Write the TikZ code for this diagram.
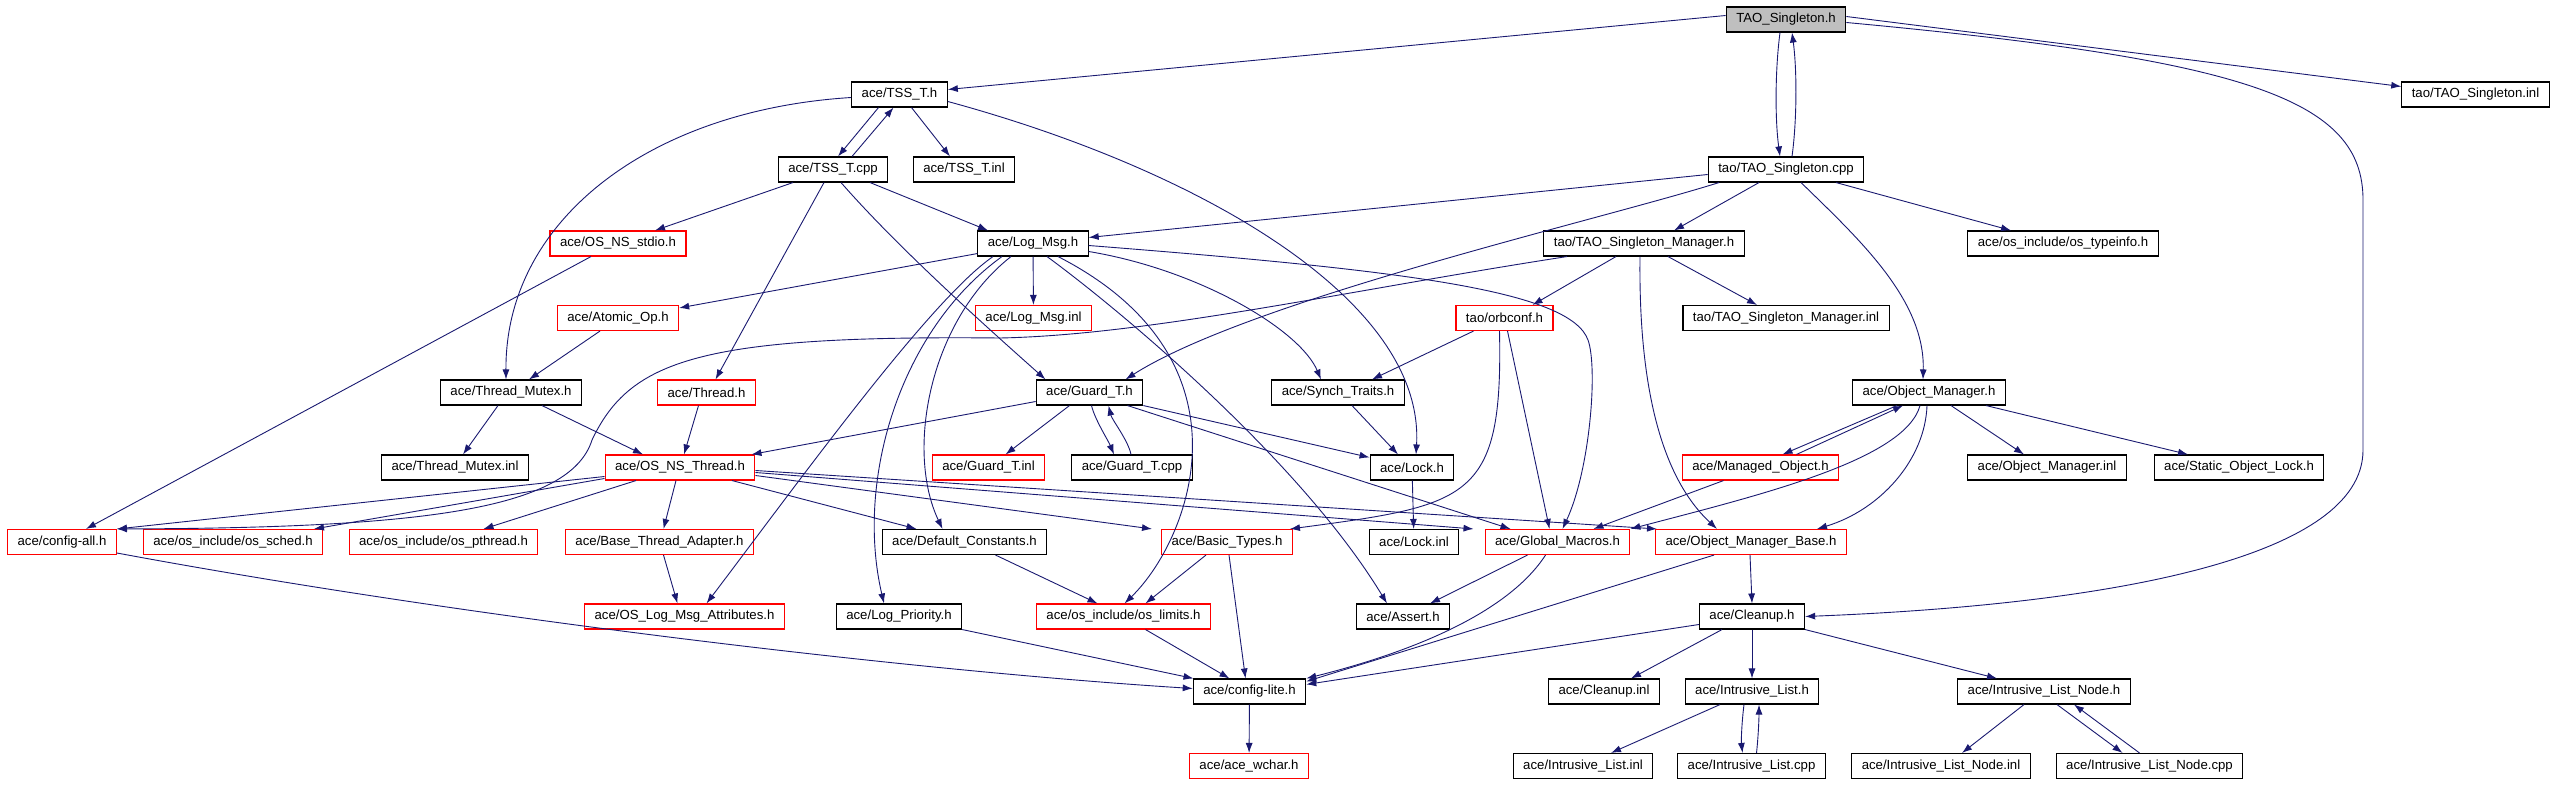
\documentclass[tikz,border=0pt]{standalone}
\usepackage{fontspec}
\setmainfont{Liberation Sans}
\usepackage{tikz}
\usetikzlibrary{arrows.meta}
\definecolor{midnight}{HTML}{191970}
\definecolor{rootgray}{HTML}{BFBFBF}

\begin{document}
\begin{tikzpicture}[x=1pt,y=-1pt]
\tikzset{file/.style = {shape=rectangle,draw,line width=1.1pt,minimum height=25pt,inner xsep=10pt,inner ysep=0pt,fill=white,font=\fontsize{13.2}{15}\selectfont}}
\tikzset{missing/.style = {file,draw=red}}
\tikzset{edge/.style = {->,> = {Latex[length=10pt,width=7pt]},draw=midnight,line width=0.9pt}}
\useasboundingbox (0,0) rectangle (2555,784);
% top rows
\node[file,fill=rootgray] (root) at (1786,19.5) {TAO\_Singleton.h};
\node[file] (tssth) at (899.5,94.5) {ace/TSS\_T.h};
\node[file] (tsinl) at (2475.5,94.5) {tao/TAO\_Singleton.inl};
\node[file] (tsstcpp) at (833,169.5) {ace/TSS\_T.cpp};
\node[file] (tsstinl) at (964,169.5) {ace/TSS\_T.inl};
\node[file] (tscpp) at (1786,169.5) {tao/TAO\_Singleton.cpp};
\node[missing] (stdio) at (618,243.5) {ace/OS\_NS\_stdio.h};
\node[file] (logmsg) at (1033,243.5) {ace/Log\_Msg.h};
\node[file] (tsmh) at (1644,243.5) {tao/TAO\_Singleton\_Manager.h};
\node[file] (typeinfo) at (2063,243.5) {ace/os\_include/os\_typeinfo.h};
\node[missing] (atomic) at (618,318) {ace/Atomic\_Op.h};
\node[missing] (logmsginl) at (1033.5,318) {ace/Log\_Msg.inl};
\node[missing] (orbconf) at (1504.5,318) {tao/orbconf.h};
\node[file] (tsminl) at (1786,318) {tao/TAO\_Singleton\_Manager.inl};
\node[file] (tmutex) at (511,392.5) {ace/Thread\_Mutex.h};
\node[missing] (thread) at (706.5,392.5) {ace/Thread.h};
\node[file] (guard) at (1089.5,392.5) {ace/Guard\_T.h};
\node[file] (synch) at (1338,392.5) {ace/Synch\_Traits.h};
\node[file] (objmgr) at (1929,392.5) {ace/Object\_Manager.h};
% middle rows
\node[file] (tmutexinl) at (455,467.5) {ace/Thread\_Mutex.inl};
\node[missing] (osthread) at (680,467.5) {ace/OS\_NS\_Thread.h};
\node[missing] (guardinl) at (988.5,467.5) {ace/Guard\_T.inl};
\node[file] (guardcpp) at (1132,467.5) {ace/Guard\_T.cpp};
\node[file] (lock) at (1412,467.5) {ace/Lock.h};
\node[missing] (managed) at (1760.5,467.5) {ace/Managed\_Object.h};
\node[file] (objmgrinl) at (2047,467.5) {ace/Object\_Manager.inl};
\node[file] (staticlock) at (2239,467.5) {ace/Static\_Object\_Lock.h};
\node[missing] (configall) at (62,542) {ace/config-all.h};
\node[missing] (sched) at (233,542) {ace/os\_include/os\_sched.h};
\node[missing] (pthread) at (443.5,542) {ace/os\_include/os\_pthread.h};
\node[missing] (bta) at (659.5,542) {ace/Base\_Thread\_Adapter.h};
\node[file] (defconst) at (964.5,542) {ace/Default\_Constants.h};
\node[missing] (basic) at (1227,542) {ace/Basic\_Types.h};
\node[file] (lockinl) at (1414,542) {ace/Lock.inl};
\node[missing] (macros) at (1557.5,542) {ace/Global\_Macros.h};
\node[missing] (omb) at (1751,542) {ace/Object\_Manager\_Base.h};
% bottom rows
\node[missing] (olma) at (684.5,616.5) {ace/OS\_Log\_Msg\_Attributes.h};
\node[file] (logprio) at (899,616.5) {ace/Log\_Priority.h};
\node[missing] (limits) at (1123.5,616.5) {ace/os\_include/os\_limits.h};
\node[file] (assert) at (1403,616.5) {ace/Assert.h};
\node[file] (cleanup) at (1752,616.5) {ace/Cleanup.h};
\node[file] (configlite) at (1249.5,691.5) {ace/config-lite.h};
\node[file] (cleanupinl) at (1604,691.5) {ace/Cleanup.inl};
\node[file] (ilist) at (1752,691.5) {ace/Intrusive\_List.h};
\node[file] (ilnode) at (2044,691.5) {ace/Intrusive\_List\_Node.h};
\node[missing] (wchar) at (1249,766) {ace/ace\_wchar.h};
\node[file] (ilistinl) at (1583,766) {ace/Intrusive\_List.inl};
\node[file] (ilistcpp) at (1751.5,766) {ace/Intrusive\_List.cpp};
\node[file] (ilnodeinl) at (1941,766) {ace/Intrusive\_List\_Node.inl};
\node[file] (ilnodecpp) at (2149.5,766) {ace/Intrusive\_List\_Node.cpp};
% TAO_Singleton.h
\draw[edge] ([yshift=4pt]root.west) to ([yshift=5pt]tssth.east);
\draw[edge] ([xshift=-6pt]root.south) .. controls (1775,70) and (1775,120) .. ([xshift=-6pt]tscpp.north);
\draw[edge] ([xshift=6pt]tscpp.north) .. controls (1797,120) and (1797,70) .. ([xshift=6pt]root.south);
\draw[edge] ([yshift=3pt]root.east) to ([yshift=8pt]tsinl.west);
\draw[edge] ([yshift=-3pt]root.east) .. controls (2250,60) and (2363,100) .. (2363,200) -- (2363,450) .. controls (2363,560) and (2100,605) .. (cleanup.east);
% TSS_T
\draw[edge] ([xshift=-21pt]tssth.south) to ([xshift=5pt]tsstcpp.north);
\draw[edge] ([xshift=19pt]tsstcpp.north) to ([xshift=-6pt]tssth.south);
\draw[edge] ([xshift=12pt]tssth.south) to ([xshift=-14pt]tsstinl.north);
\draw[edge] ([yshift=-3pt]tssth.west) .. controls (650,110) and (505,220) .. ([xshift=-5pt]tmutex.north);
\draw[edge] ([yshift=-7pt]tssth.east) .. controls (1200,170) and (1425,300) .. ([xshift=4pt]lock.north);
\draw[edge] ([xshift=-40pt]tsstcpp.south) to ([xshift=37pt]stdio.north);
\draw[edge] ([xshift=-9pt]tsstcpp.south) to ([xshift=9pt]thread.north);
\draw[edge] ([xshift=8pt]tsstcpp.south) .. controls (900,250) and (990,330) .. ([xshift=-44pt]guard.north);
\draw[edge] ([xshift=37pt]tsstcpp.south) to ([xshift=-45pt]logmsg.north);
% TAO_Singleton.cpp
\draw[edge] ([yshift=-5pt]tscpp.west) to ([yshift=6pt]logmsg.east);
\draw[edge] ([xshift=-67pt]tscpp.south) .. controls (1600,220) and (1250,300) .. ([xshift=36pt]guard.north);
\draw[edge] ([xshift=-27pt]tscpp.south) to ([xshift=30pt]tsmh.north);
\draw[edge] ([xshift=15pt]tscpp.south) .. controls (1860,240) and (1925,300) .. ([xshift=-6pt]objmgr.north);
\draw[edge] ([xshift=50pt]tscpp.south) to ([xshift=-52pt]typeinfo.north);
% TAO_Singleton_Manager.h
\draw[edge] ([xshift=-77pt]tsmh.south) .. controls (1350,290) and (1150,335) .. (1000,338) .. controls (700,335) and (630,360) .. (592,440) .. controls (570,510) and (420,528) .. (configall.north east);
\draw[edge] ([xshift=-28pt]tsmh.south) to ([xshift=28pt]orbconf.north);
\draw[edge] ([xshift=24pt]tsmh.south) to ([xshift=-29pt]tsminl.north);
\draw[edge] ([xshift=-4pt]tsmh.south) .. controls (1638,420) and (1675,490) .. ([xshift=-34pt]omb.north);
\draw[edge] ([xshift=-27pt]stdio.south) to ([xshift=24pt]configall.north);
% Log_Msg.h
\draw[edge] ([yshift=3pt]logmsg.south west) to ([yshift=-3pt]atomic.north east);
\draw[edge] (logmsg) to (logmsginl);
\draw[edge] ([xshift=-40pt]logmsg.south) .. controls (930,300) and (800,480) .. ([xshift=22pt]olma.north);
\draw[edge] ([xshift=-31pt]logmsg.south) .. controls (900,330) and (855,480) .. ([xshift=-15pt]logprio.north);
\draw[edge] ([xshift=-22pt]logmsg.south) .. controls (930,320) and (905,450) .. ([xshift=-22pt]defconst.north);
\draw[edge] ([xshift=25pt]logmsg.south) .. controls (1260,360) and (1190,540) .. ([xshift=1pt]limits.north);
\draw[edge] ([xshift=14pt]logmsg.south) .. controls (1120,310) and (1300,460) .. ([xshift=-16pt]assert.north);
\draw[edge] ([yshift=-8pt]logmsg.east) .. controls (1200,270) and (1300,330) .. ([xshift=-17pt]synch.north);
\draw[edge] ([yshift=-2pt]logmsg.east) .. controls (1400,270) and (1570,290) .. (1588,340) .. controls (1598,368) and (1590,470) .. ([xshift=5pt]macros.north);
\draw[edge] ([xshift=-18pt]atomic.south) to ([xshift=18pt]tmutex.north);
% tao/orbconf.h
\draw[edge] ([xshift=-31pt]orbconf.south) to ([xshift=34pt]synch.north);
\draw[edge] ([xshift=3pt]orbconf.south) to ([xshift=-8pt]macros.north);
\draw[edge] ([xshift=-5pt]orbconf.south) .. controls (1503,500) and (1470,505) .. ([xshift=-3pt]basic.north east);
% threads and guards
\draw[edge] ([xshift=-13pt]tmutex.south) to ([xshift=8pt]tmutexinl.north);
\draw[edge] ([xshift=31pt]tmutex.south) to ([xshift=-37pt]osthread.north);
\draw[edge] ([xshift=-8pt]thread.south) to ([xshift=4pt]osthread.north);
\draw[edge] ([yshift=-9pt]guard.west) to ([xshift=-4pt]osthread.north east);
\draw[edge] ([xshift=-20pt]guard.south) to ([xshift=17pt]guardinl.north);
\draw[edge] ([xshift=2pt]guard.south) .. controls (1095,420) and (1108,440) .. ([xshift=-18pt]guardcpp.north);
\draw[edge] ([xshift=-1pt]guardcpp.north) .. controls (1128,440) and (1112,420) .. ([xshift=19pt]guard.south);
\draw[edge] (guard.south east) to ([yshift=-3pt]lock.north west);
\draw[edge] ([xshift=38pt]guard.south) to ([xshift=-47pt]macros.north);
\draw[edge] ([xshift=14pt]synch.south) to ([xshift=-14pt]lock.north);
\draw[edge] (lock) to (lockinl);
% Object_Manager.h
\draw[edge] ([xshift=-32pt]objmgr.south) to ([xshift=22pt]managed.north);
\draw[edge] ([xshift=36pt]managed.north) to ([xshift=-26pt]objmgr.south);
\draw[edge] ([xshift=22pt]objmgr.south) to ([xshift=-23pt]objmgrinl.north);
\draw[edge] ([xshift=57pt]objmgr.south) to ([xshift=-51pt]staticlock.north);
\draw[edge] ([xshift=-9pt]objmgr.south) .. controls (1905,460) and (1760,495) .. (macros.north east);
\draw[edge] ([xshift=-2pt]objmgr.south) .. controls (1925,460) and (1880,510) .. ([xshift=66pt]omb.north);
\draw[edge] ([xshift=-37pt]managed.south) to ([xshift=36pt]macros.north);
% OS_NS_Thread.h
\draw[edge] ([yshift=-9pt]osthread.west) to (configall.north east);
\draw[edge] ([yshift=-11pt]osthread.west) to ([xshift=81pt]sched.north);
\draw[edge] ([xshift=-44pt]osthread.south) to ([xshift=40pt]pthread.north);
\draw[edge] ([xshift=-4pt]osthread.south) to ([xshift=4pt]bta.north);
\draw[edge] ([xshift=52pt]osthread.south) to ([xshift=-48pt]defconst.north);
\draw[edge] ([yshift=-8pt]osthread.east) to ([xshift=-75pt]basic.north);
\draw[edge] ([yshift=-5pt]osthread.east) to ([xshift=-84pt]macros.north);
\draw[edge] ([yshift=-3pt]osthread.east) to ([xshift=2pt]omb.north west);
% lower levels
\draw[edge] ([xshift=4pt]bta.south) to ([xshift=-7pt]olma.north);
\draw[edge] ([xshift=31pt]defconst.south) to ([xshift=-26pt]limits.north);
\draw[edge] ([xshift=-21pt]basic.south) to ([xshift=22pt]limits.north);
\draw[edge] ([xshift=2pt]basic.south) to ([xshift=-4pt]configlite.north);
\draw[edge] ([xshift=-30pt]macros.south) to ([xshift=27pt]assert.north);
\draw[edge] ([xshift=-12pt]macros.south) .. controls (1510,610) and (1420,650) .. (configlite.north east);
\draw[edge] ([xshift=-37pt]omb.south) to ([yshift=-3pt]configlite.north east);
\draw[edge] ([xshift=-1pt]omb.south) to (cleanup.north);
\draw[edge] ([yshift=-8pt]cleanup.west) to ([yshift=-6pt]configlite.north east);
\draw[edge] ([xshift=22pt]limits.south) to ([xshift=-20pt]configlite.north);
\draw[edge] (logprio.south east) to ([xshift=-56pt]configlite.north);
\draw[edge] ([yshift=-11pt]configall.east) .. controls (450,615) and (900,670) .. ([yshift=3pt]configlite.west);
\draw[edge] (configlite) to (wchar);
\draw[edge] ([xshift=-30pt]cleanup.south) to ([xshift=27pt]cleanupinl.north);
\draw[edge] (cleanup) to (ilist);
\draw[edge] (cleanup.south east) to ([xshift=-47pt]ilnode.north);
\draw[edge] ([xshift=-32pt]ilist.south) to ([xshift=28pt]ilistinl.north);
\draw[edge] ([xshift=-8pt]ilist.south) .. controls (1742,720) and (1741,740) .. ([xshift=-9pt]ilistcpp.north);
\draw[edge] ([xshift=5pt]ilistcpp.north) .. controls (1758,740) and (1759,720) .. ([xshift=7pt]ilist.south);
\draw[edge] ([xshift=-20pt]ilnode.south) to ([xshift=21pt]ilnodeinl.north);
\draw[edge] ([xshift=13pt]ilnode.south) to ([xshift=-27pt]ilnodecpp.north);
\draw[edge] ([xshift=-10pt]ilnodecpp.north) to ([xshift=30pt]ilnode.south);
\end{tikzpicture}
\end{document}
